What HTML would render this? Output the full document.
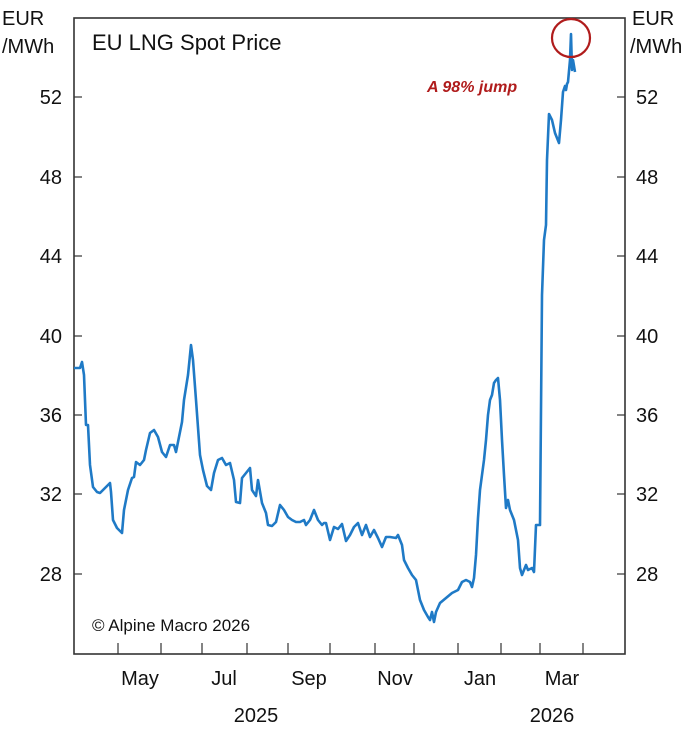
<!DOCTYPE html>
<html><head><meta charset="utf-8"><style>
body{margin:0;background:#fff;}
svg{display:block;font-family:"Liberation Sans",Arial,sans-serif;}
</style></head><body>
<svg width="696" height="733" viewBox="0 0 696 733" xmlns="http://www.w3.org/2000/svg">
<rect x="74" y="18" width="551" height="636" fill="none" stroke="#333" stroke-width="1.6"/>
<g fill="#111" font-size="20">
<text x="2" y="25">EUR</text><text x="2" y="53">/MWh</text>
<text x="632" y="25">EUR</text><text x="630" y="53">/MWh</text>
</g>
<g stroke="#333" stroke-width="1.2">
<line x1="74" y1="97" x2="82" y2="97"/><line x1="617" y1="97" x2="625" y2="97"/>
<line x1="74" y1="177" x2="82" y2="177"/><line x1="617" y1="177" x2="625" y2="177"/>
<line x1="74" y1="256" x2="82" y2="256"/><line x1="617" y1="256" x2="625" y2="256"/>
<line x1="74" y1="336" x2="82" y2="336"/><line x1="617" y1="336" x2="625" y2="336"/>
<line x1="74" y1="415" x2="82" y2="415"/><line x1="617" y1="415" x2="625" y2="415"/>
<line x1="74" y1="494" x2="82" y2="494"/><line x1="617" y1="494" x2="625" y2="494"/>
<line x1="74" y1="574" x2="82" y2="574"/><line x1="617" y1="574" x2="625" y2="574"/>
<line x1="118" y1="643" x2="118" y2="654"/><line x1="161" y1="643" x2="161" y2="654"/>
<line x1="202" y1="643" x2="202" y2="654"/><line x1="247" y1="643" x2="247" y2="654"/>
<line x1="288" y1="643" x2="288" y2="654"/><line x1="330" y1="643" x2="330" y2="654"/>
<line x1="375" y1="643" x2="375" y2="654"/><line x1="414" y1="643" x2="414" y2="654"/>
<line x1="458" y1="643" x2="458" y2="654"/><line x1="501" y1="643" x2="501" y2="654"/>
<line x1="540" y1="643" x2="540" y2="654"/><line x1="583" y1="643" x2="583" y2="654"/>
</g>
<g fill="#111" font-size="20" text-anchor="end">
<text x="62" y="104">52</text><text x="62" y="184">48</text><text x="62" y="263">44</text>
<text x="62" y="343">40</text><text x="62" y="422">36</text><text x="62" y="501">32</text><text x="62" y="581">28</text>
</g>
<g fill="#111" font-size="20" text-anchor="start">
<text x="636" y="104">52</text><text x="636" y="184">48</text><text x="636" y="263">44</text>
<text x="636" y="343">40</text><text x="636" y="422">36</text><text x="636" y="501">32</text><text x="636" y="581">28</text>
</g>
<g fill="#111" font-size="20" text-anchor="middle">
<text x="140" y="685">May</text><text x="224" y="685">Jul</text><text x="309" y="685">Sep</text>
<text x="395" y="685">Nov</text><text x="480" y="685">Jan</text><text x="562" y="685">Mar</text>
<text x="256" y="722">2025</text><text x="552" y="722">2026</text>
</g>
<text x="92" y="50" font-size="22" fill="#111">EU LNG Spot Price</text>
<text x="92" y="631" font-size="17" fill="#111">© Alpine Macro 2026</text>
<text x="427" y="92" font-size="16" fill="#b01c1c" font-weight="bold" font-style="italic">A 98% jump</text>
<polyline fill="none" stroke="#1f7ac6" stroke-width="2.6" stroke-linejoin="round" points="74,368 80,368 82,362 84,375 86,425 88,425 90,465 93,487 97,492 100,493 104,489 108,485 110,483 111,492 113,520 117,528 122,533 124,510 128,490 132,478 134,477 136,462 140,465 144,460 146,450 150,433 154,430 158,437 162,452 166,457 170,445 174,445 176,452 180,432 182,422 184,400 188,375 191,345 193,360 196,400 200,455 203,470 207,486 211,490 214,473 218,460 222,458 226,465 230,463 234,480 236,502 240,503 242,478 246,473 250,468 252,490 256,496 258,480 262,503 266,513 268,525 272,526 276,522 280,505 284,510 288,517 292,520 296,522 300,522 304,520 306,525 310,520 314,510 318,520 322,525 324,523 326,523 330,540 334,527 338,529 342,524 346,541 350,535 354,527 358,523 362,535 366,525 370,537 374,530 378,538 382,547 386,537 390,537 396,538 398,535 402,545 404,560 408,568 412,575 416,580 420,600 424,610 428,617 430,620 432,612 434,622 436,612 440,603 446,598 452,593 458,590 462,582 466,580 470,582 472,587 474,578 476,555 478,518 480,490 484,460 486,440 488,415 490,400 492,395 494,383 496,380 498,378 500,400 502,440 504,475 506,508 508,500 510,510 514,520 518,540 520,568 522,575 524,570 526,565 528,570 532,568 534,572 536,525 538,525 540,525 542,295 544,240 546,225 547,160 549,114 552,120 555,133 559,143 561,120 563,92 565,86 566,90 567,84 568,82 570,60 571,34 572,70 573,60 575,72"/>
<circle cx="571" cy="38" r="19" fill="none" stroke="#b01c1c" stroke-width="2.2"/>
</svg>
</body></html>
